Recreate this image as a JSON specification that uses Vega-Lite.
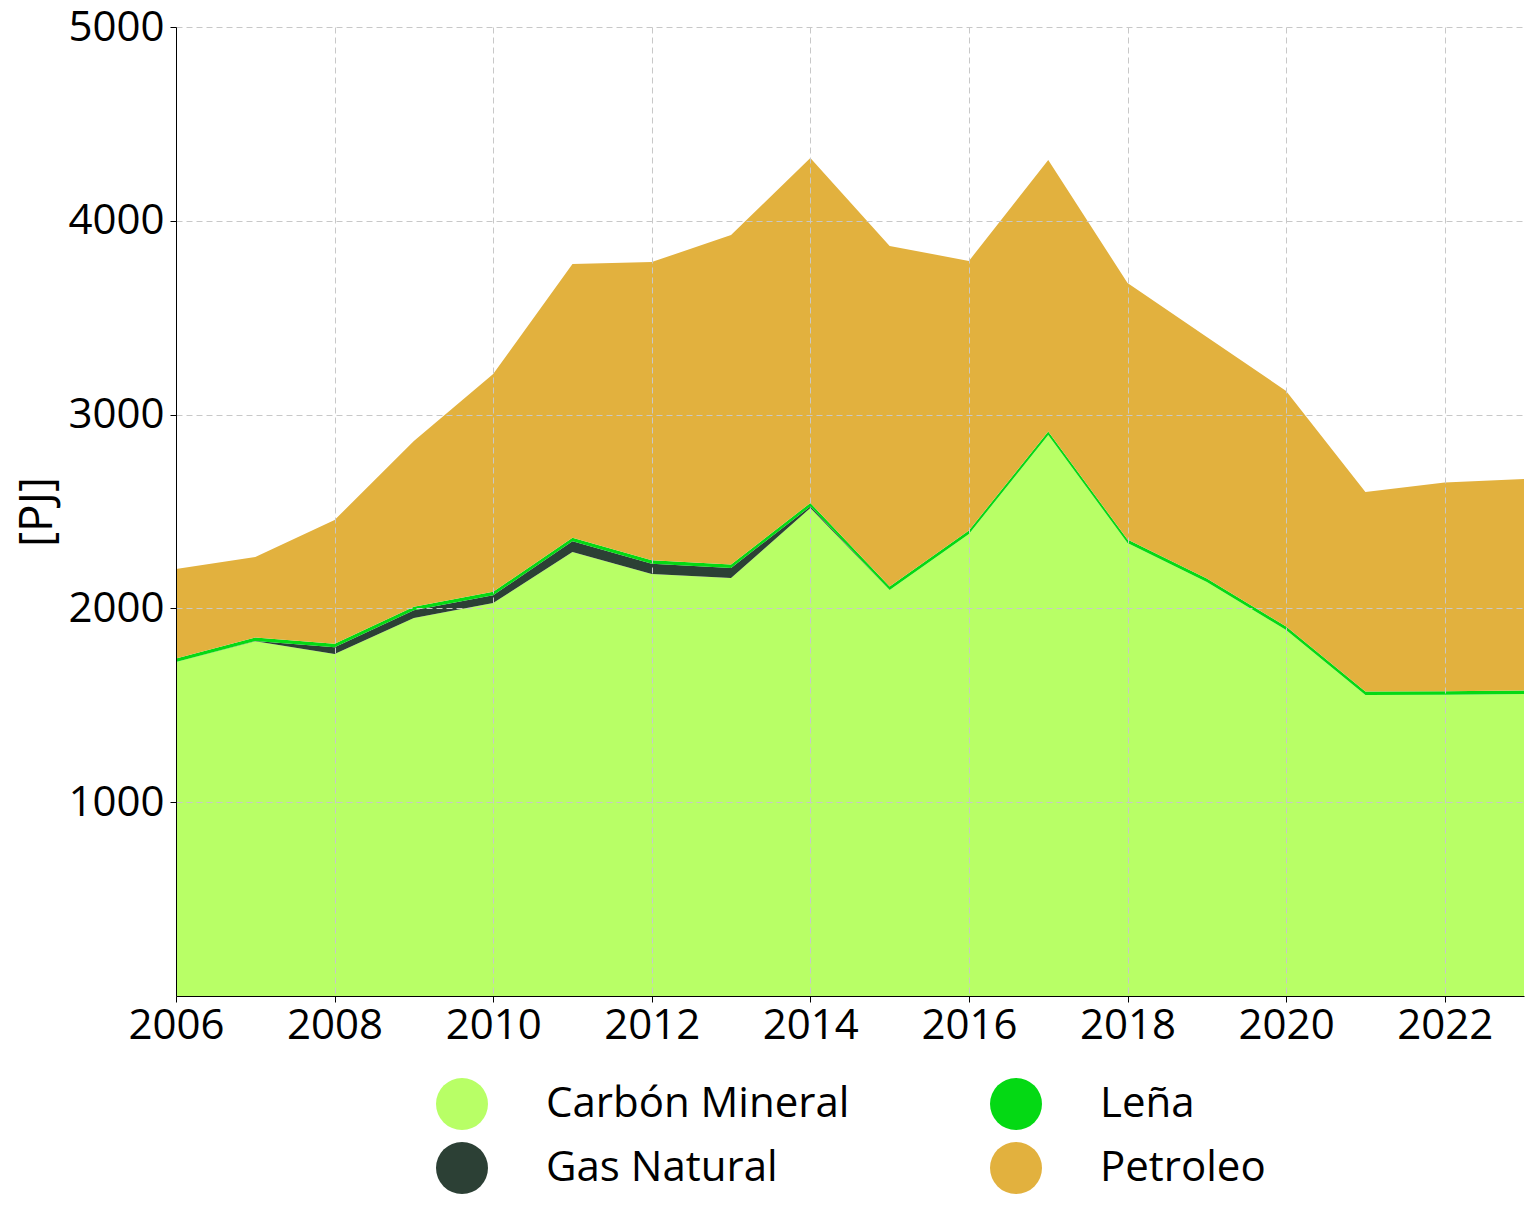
{
  "$schema": "https://vega.github.io/schema/vega-lite/v6.json",
  "width": 1348,
  "height": 969,
  "autosize": {"type": "none"},
  "padding": {"left": 176, "top": 27, "right": 12, "bottom": 226},
  "background": "white",
  "config": {
    "font": "Open Sans",
    "view": {"stroke": null},
    "axis": {
      "labelFont": "Open Sans",
      "titleFont": "Open Sans",
      "labelColor": "black",
      "titleColor": "black",
      "domainColor": "black",
      "tickColor": "black",
      "gridColor": "#c8c8c8",
      "gridDash": [6, 4],
      "gridWidth": 1
    }
  },
  "data": {
    "values": [
      {"year": 2006, "fuel": "Carbón Mineral", "ord": 1, "pj": 1723},
      {"year": 2006, "fuel": "Gas Natural", "ord": 2, "pj": 0},
      {"year": 2006, "fuel": "Leña", "ord": 3, "pj": 18},
      {"year": 2006, "fuel": "Petroleo", "ord": 4, "pj": 462},
      {"year": 2007, "fuel": "Carbón Mineral", "ord": 1, "pj": 1830},
      {"year": 2007, "fuel": "Gas Natural", "ord": 2, "pj": 2},
      {"year": 2007, "fuel": "Leña", "ord": 3, "pj": 18},
      {"year": 2007, "fuel": "Petroleo", "ord": 4, "pj": 415},
      {"year": 2008, "fuel": "Carbón Mineral", "ord": 1, "pj": 1765},
      {"year": 2008, "fuel": "Gas Natural", "ord": 2, "pj": 35},
      {"year": 2008, "fuel": "Leña", "ord": 3, "pj": 18},
      {"year": 2008, "fuel": "Petroleo", "ord": 4, "pj": 638},
      {"year": 2009, "fuel": "Carbón Mineral", "ord": 1, "pj": 1950},
      {"year": 2009, "fuel": "Gas Natural", "ord": 2, "pj": 40},
      {"year": 2009, "fuel": "Leña", "ord": 3, "pj": 18},
      {"year": 2009, "fuel": "Petroleo", "ord": 4, "pj": 856},
      {"year": 2010, "fuel": "Carbón Mineral", "ord": 1, "pj": 2028},
      {"year": 2010, "fuel": "Gas Natural", "ord": 2, "pj": 40},
      {"year": 2010, "fuel": "Leña", "ord": 3, "pj": 18},
      {"year": 2010, "fuel": "Petroleo", "ord": 4, "pj": 1123},
      {"year": 2011, "fuel": "Carbón Mineral", "ord": 1, "pj": 2291},
      {"year": 2011, "fuel": "Gas Natural", "ord": 2, "pj": 55},
      {"year": 2011, "fuel": "Leña", "ord": 3, "pj": 18},
      {"year": 2011, "fuel": "Petroleo", "ord": 4, "pj": 1413},
      {"year": 2012, "fuel": "Carbón Mineral", "ord": 1, "pj": 2178},
      {"year": 2012, "fuel": "Gas Natural", "ord": 2, "pj": 52},
      {"year": 2012, "fuel": "Leña", "ord": 3, "pj": 18},
      {"year": 2012, "fuel": "Petroleo", "ord": 4, "pj": 1539},
      {"year": 2013, "fuel": "Carbón Mineral", "ord": 1, "pj": 2157},
      {"year": 2013, "fuel": "Gas Natural", "ord": 2, "pj": 52},
      {"year": 2013, "fuel": "Leña", "ord": 3, "pj": 18},
      {"year": 2013, "fuel": "Petroleo", "ord": 4, "pj": 1700},
      {"year": 2014, "fuel": "Carbón Mineral", "ord": 1, "pj": 2518},
      {"year": 2014, "fuel": "Gas Natural", "ord": 2, "pj": 8},
      {"year": 2014, "fuel": "Leña", "ord": 3, "pj": 18},
      {"year": 2014, "fuel": "Petroleo", "ord": 4, "pj": 1780},
      {"year": 2015, "fuel": "Carbón Mineral", "ord": 1, "pj": 2095},
      {"year": 2015, "fuel": "Gas Natural", "ord": 2, "pj": 0},
      {"year": 2015, "fuel": "Leña", "ord": 3, "pj": 18},
      {"year": 2015, "fuel": "Petroleo", "ord": 4, "pj": 1757},
      {"year": 2016, "fuel": "Carbón Mineral", "ord": 1, "pj": 2384},
      {"year": 2016, "fuel": "Gas Natural", "ord": 2, "pj": 0},
      {"year": 2016, "fuel": "Leña", "ord": 3, "pj": 18},
      {"year": 2016, "fuel": "Petroleo", "ord": 4, "pj": 1391},
      {"year": 2017, "fuel": "Carbón Mineral", "ord": 1, "pj": 2895},
      {"year": 2017, "fuel": "Gas Natural", "ord": 2, "pj": 0},
      {"year": 2017, "fuel": "Leña", "ord": 3, "pj": 18},
      {"year": 2017, "fuel": "Petroleo", "ord": 4, "pj": 1401},
      {"year": 2018, "fuel": "Carbón Mineral", "ord": 1, "pj": 2337},
      {"year": 2018, "fuel": "Gas Natural", "ord": 2, "pj": 0},
      {"year": 2018, "fuel": "Leña", "ord": 3, "pj": 18},
      {"year": 2018, "fuel": "Petroleo", "ord": 4, "pj": 1324},
      {"year": 2019, "fuel": "Carbón Mineral", "ord": 1, "pj": 2136},
      {"year": 2019, "fuel": "Gas Natural", "ord": 2, "pj": 0},
      {"year": 2019, "fuel": "Leña", "ord": 3, "pj": 18},
      {"year": 2019, "fuel": "Petroleo", "ord": 4, "pj": 1246},
      {"year": 2020, "fuel": "Carbón Mineral", "ord": 1, "pj": 1889},
      {"year": 2020, "fuel": "Gas Natural", "ord": 2, "pj": 0},
      {"year": 2020, "fuel": "Leña", "ord": 3, "pj": 18},
      {"year": 2020, "fuel": "Petroleo", "ord": 4, "pj": 1215},
      {"year": 2021, "fuel": "Carbón Mineral", "ord": 1, "pj": 1553},
      {"year": 2021, "fuel": "Gas Natural", "ord": 2, "pj": 0},
      {"year": 2021, "fuel": "Leña", "ord": 3, "pj": 18},
      {"year": 2021, "fuel": "Petroleo", "ord": 4, "pj": 1030},
      {"year": 2022, "fuel": "Carbón Mineral", "ord": 1, "pj": 1555},
      {"year": 2022, "fuel": "Gas Natural", "ord": 2, "pj": 0},
      {"year": 2022, "fuel": "Leña", "ord": 3, "pj": 18},
      {"year": 2022, "fuel": "Petroleo", "ord": 4, "pj": 1076},
      {"year": 2023, "fuel": "Carbón Mineral", "ord": 1, "pj": 1558},
      {"year": 2023, "fuel": "Gas Natural", "ord": 2, "pj": 0},
      {"year": 2023, "fuel": "Leña", "ord": 3, "pj": 18},
      {"year": 2023, "fuel": "Petroleo", "ord": 4, "pj": 1092}
    ]
  },
  "mark": {"type": "area", "opacity": 1},
  "encoding": {
    "x": {
      "field": "year",
      "type": "quantitative",
      "scale": {"domain": [2006, 2023], "nice": false, "zero": false},
      "axis": {
        "values": [2006, 2008, 2010, 2012, 2014, 2016, 2018, 2020, 2022],
        "format": "d",
        "title": null,
        "labelFontSize": 42,
        "labelPadding": 3,
        "tickSize": 6,
        "grid": true,
        "zindex": 1,
        "labelFlush": false
      }
    },
    "y": {
      "field": "pj",
      "type": "quantitative",
      "stack": "zero",
      "scale": {"domain": [0, 5000], "nice": false},
      "axis": {
        "values": [1000, 2000, 3000, 4000, 5000],
        "format": "d",
        "title": "[PJ]",
        "titleFontSize": 46,
        "titleFontWeight": "normal",
        "titlePadding": 6,
        "labelFontSize": 42,
        "labelPadding": 6,
        "tickSize": 6,
        "grid": true,
        "zindex": 1
      }
    },
    "order": {"field": "ord", "type": "quantitative"},
    "color": {
      "field": "fuel",
      "type": "nominal",
      "scale": {
        "domain": ["Carbón Mineral", "Leña", "Gas Natural", "Petroleo"],
        "range": ["#b8ff66", "#04d914", "#2c4035", "#e2b13e"]
      },
      "legend": {
        "orient": "none",
        "legendX": 260,
        "legendY": 1051,
        "title": null,
        "direction": "horizontal",
        "columns": 2,
        "symbolType": "circle",
        "symbolSize": 2704,
        "symbolStrokeWidth": 0,
        "symbolOpacity": 1,
        "labelFont": "Open Sans",
        "labelFontSize": 42,
        "labelColor": "black",
        "labelOffset": 58,
        "labelLimit": 500,
        "columnPadding": 140,
        "rowPadding": 12
      }
    }
  }
}
